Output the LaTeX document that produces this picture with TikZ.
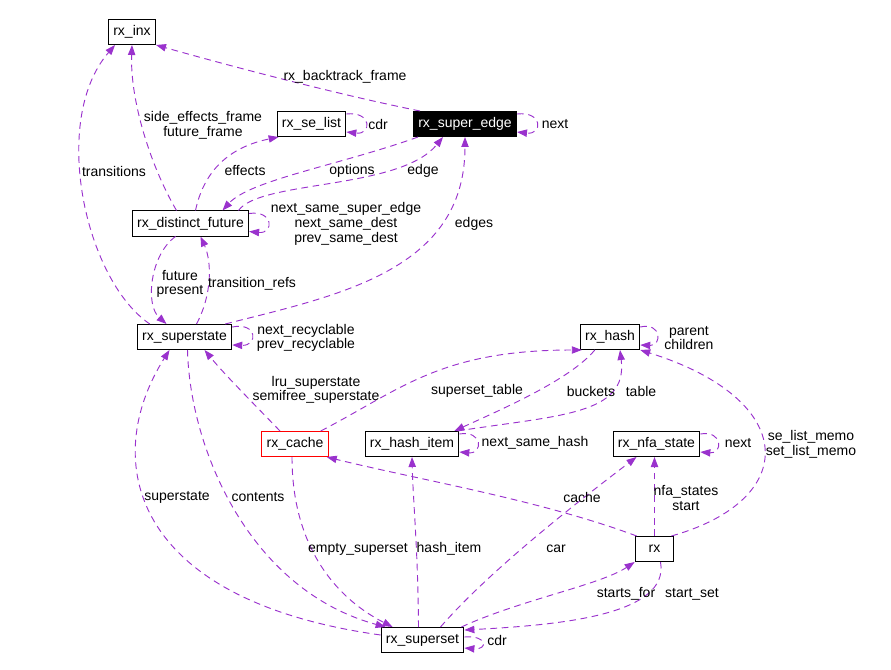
\documentclass[tikz,border=0pt]{standalone}
\usepackage{fontspec}
\setmainfont{Liberation Sans}
\usetikzlibrary{arrows.meta, calc}
\definecolor{usecol}{HTML}{9A32CD}
\tikzset{
  cls/.style   = {draw=black, fill=white, line width=0.75pt, minimum height=18.75pt,
                  inner xsep=3.6pt, inner ysep=0pt, font=\fontsize{10.5}{11}\selectfont},
  cur/.style   = {cls, fill=black, text=white},
  undoc/.style = {cls, draw=red},
  use/.style   = {draw=usecol, line width=0.7pt, dash pattern=on 5pt off 3.5pt,
                  -{Triangle[length=7.5pt,width=5.5pt]}},
  lbl/.style   = {font=\fontsize{10.5}{11}\selectfont, align=center, inner sep=0pt}
}
\begin{document}
\begin{tikzpicture}[x=0.75pt, y=-0.75pt]
\useasboundingbox (0,0) rectangle (891,670);
% Classes
\foreach \nm/\x/\y/\t in {inx/132/32/{rx\_inx}, selist/311.5/124/{rx\_se\_list},
    distinct/190.5/223.5/{rx\_distinct\_future}, superstate/184.5/337/{rx\_superstate},
    hash/610/337/{rx\_hash}, hashitem/412/444/{rx\_hash\_item},
    nfastate/656.5/444/{rx\_nfa\_state}, superset/422.5/640/{rx\_superset}} {
  \node[cls] (\nm) at (\x,\y) {\t};
}
\node[cur] (superedge) at (465,124) {rx\_super\_edge};
\node[undoc] (cache) at (295,444) {rx\_cache};
\node[cls, minimum width=29pt] (rx) at (654.5,549) {rx};

% Usage edges
\draw[use] ($(superedge.north west)+(7,0)$) .. controls (340,95) and (230,66) .. (inx.south east);
\draw[use] ($(distinct.north)+(-14,0)$) .. controls (150,165) and (130,100) .. (inx.south);
\draw[use] ($(superstate.north west)+(13,0)$) .. controls (85,280) and (50,120) .. ($(inx.south west)+(7,0)$);
\draw[use] ($(selist.north east)+(0,3)$) .. controls (372,111) and (372,135) .. ($(selist.south east)+(0,-5)$);
\draw[use] ($(distinct.north)+(5,0)$) .. controls (203,175) and (225,148) .. ($(selist.south west)+(2,0)$);
\draw[use] ($(superedge.north east)+(0,3)$) .. controls (543,111) and (543,135) .. ($(superedge.south east)+(0,-5)$);
\draw[use] ($(superedge.south west)+(5,0)$) .. controls (340,165) and (250,180) .. ($(distinct.north)+(32,0)$);
\draw[use] ($(distinct.north)+(48,0)$) .. controls (260,180) and (400,190) .. ($(superedge.south west)+(30,0)$);
\draw[use] ($(distinct.north east)+(0,3)$) .. controls (274,210) and (274,234) .. ($(distinct.south east)+(0,-5)$);
\draw[use] ($(superstate.north east)+(-7,0)$) .. controls (340,295) and (465,270) .. (superedge.south);
\draw[use] ($(distinct.south)+(-15,0)$) .. controls (150,255) and (145,305) .. ($(superstate.north)+(-18,0)$);
\draw[use] ($(superstate.north)+(12,0)$) .. controls (212,295) and (212,262) .. ($(distinct.south)+(10,0)$);
\draw[use] ($(superstate.north east)+(0,3)$) .. controls (258,322) and (258,346) .. ($(superstate.south east)+(0,-5)$);
\draw[use] ($(cache.north)+(-15,0)$) .. controls (255,405) and (225,375) .. ($(superstate.south)+(20,0)$);
\draw[use] ($(superset.west)+(0,-5)$) .. controls (130,600) and (100,460) .. ($(superstate.south)+(-15,0)$);
\draw[use] ($(superstate.south)+(3,0)$) .. controls (190,450) and (250,590) .. ($(superset.north west)+(5,0)$);
\draw[use] ($(cache.south)+(-3,0)$) .. controls (292,540) and (330,595) .. ($(superset.north west)+(12,0)$);
\draw[use] ($(hash.north east)+(0,3)$) .. controls (662,322) and (662,346) .. ($(hash.south east)+(0,-5)$);
\draw[use] ($(cache.north east)+(-8,0)$) .. controls (400,390) and (440,350) .. ($(hash.south west)+(2,0)$);
\draw[use] ($(hash.south west)+(15,0)$) .. controls (570,380) and (500,410) .. ($(hashitem.north east)+(-5,0)$);
\draw[use] ($(hashitem.north east)+(-2,0)$) .. controls (560,415) and (628,415) .. ($(hash.south)+(10,0)$);
\draw[use] ($(hashitem.north east)+(0,3)$) .. controls (483,430) and (483,454) .. ($(hashitem.south east)+(0,-5)$);
\draw[use] ($(nfastate.north east)+(0,3)$) .. controls (723,430) and (723,454) .. ($(nfastate.south east)+(0,-5)$);
\draw[use] ($(rx.north east)+(-3,0)$) .. controls (800,500) and (800,400) .. (hash.south east);
\draw[use] ($(rx.north west)+(2,0)$) .. controls (540,500) and (420,480) .. ($(cache.south east)+(-2,0)$);
\draw[use] ($(superset.north)+(18,0)$) .. controls (490,570) and (580,500) .. ($(nfastate.south)+(-20,0)$);
\draw[use] (rx.north) -- (rx.north |- nfastate.south);
\draw[use] ($(superset.north)+(-4,0)$) .. controls (418,550) and (413,500) .. (hashitem.south);
\draw[use] ($(superset.north east)+(-3,0)$) .. controls (520,600) and (600,585) .. (rx.south west);
\draw[use] ($(rx.south)+(6,0)$) .. controls (670,615) and (560,625) .. ($(superset.north east)+(0,3)$);
\draw[use] ($(superset.east)+(0,-3)$) .. controls (488,635) and (488,650) .. ($(superset.south east)+(0,-5)$);

% Member labels
\foreach \nm/\x/\y/\t in {
  lbtf/345/77/{rx\_backtrack\_frame},
  lsef/203/125/{side\_effects\_frame\\future\_frame},
  ltrans/114/171/{transitions},
  leff/245/171/{effects},
  lopt/352/171/{options},
  ledge/423/171/{edge},
  lcdr/378/124/{cdr},
  lnext/555/124/{next},
  lnsse/346/224/{next\_same\_super\_edge\\next\_same\_dest\\prev\_same\_dest},
  ledges/474/224/{edges},
  lfut/180/284/{future\\present},
  ltref/252/284/{transition\_refs},
  lrecyc/306/338/{next\_recyclable\\prev\_recyclable},
  llru/316/390/{lru\_superstate\\semifree\_superstate},
  lsst/477/391/{superset\_table},
  lbuck/591/391/{buckets},
  ltable/641/391/{table},
  lpar/689/338/{parent\\children},
  lnsh/535/443/{next\_same\_hash},
  lnext2/738/443/{next},
  lmemo/811/444/{se\_list\_memo\\set\_list\_memo},
  lsstate/177/497/{superstate},
  lcont/258/497/{contents},
  lcache/582/497/{cache},
  lnfa/686/498/{nfa\_states\\start},
  lempty/358/549/{empty\_superset},
  lhitem/449/549/{hash\_item},
  lcar/556/549/{car},
  lsfor/626/594/{starts\_for},
  lsset/692/594/{start\_set},
  lcdr2/497/640/{cdr}} {
  \node[lbl] (\nm) at (\x,\y) {\t};
}
\end{tikzpicture}
\end{document}
